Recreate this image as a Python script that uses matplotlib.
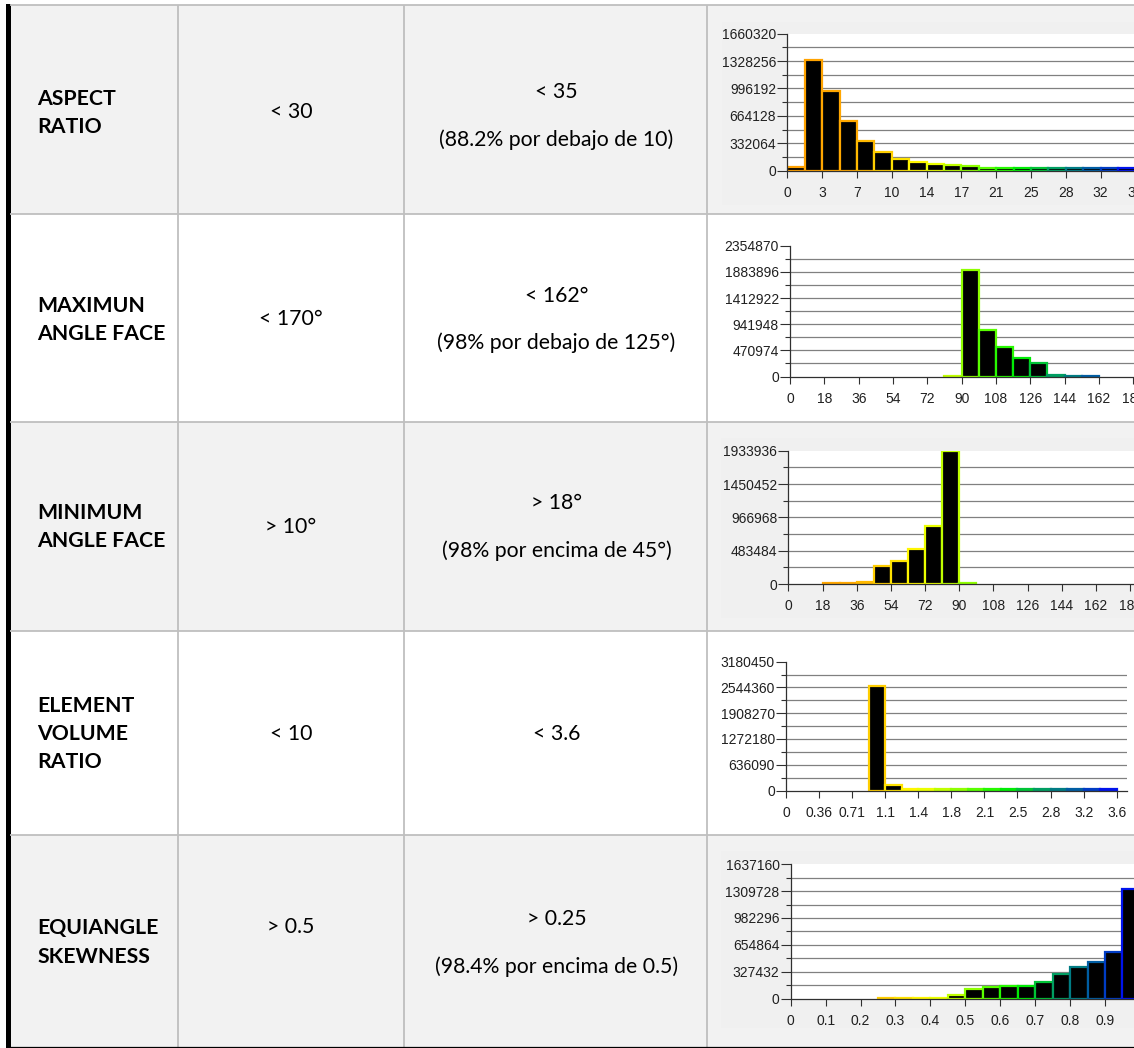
import matplotlib.pyplot as plt
import numpy as np
from matplotlib.colors import LinearSegmentedColormap
from matplotlib.patches import Rectangle

W, H = 1134, 1048

# ---- table contents ----
ROW_NAMES = [
    ["ASPECT", "RATIO"],
    ["MAXIMUN", "ANGLE FACE"],
    ["MINIMUM", "ANGLE FACE"],
    ["ELEMENT", "VOLUME", "RATIO"],
    ["EQUIANGLE", "SKEWNESS"],
]
LIMITS = ["< 30", "< 170°", "> 10°", "< 10", "> 0.5"]
RESULTS = [
    ["< 35", "(88.2% por debajo de 10)"],
    ["< 162°", "(98% por debajo de 125°)"],
    ["> 18°", "(98% por encima de 45°)"],
    ["< 3.6"],
    ["> 0.25", "(98.4% por encima de 0.5)"],
]

# ---- histogram data (20 equal bins on [0, x_max]) ----
X_MAX = [35, 180, 180, 3.6, 1.0]
X_LABELS = [
    ["0", "3", "7", "10", "14", "17", "21", "25", "28", "32", "35"],
    ["0", "18", "36", "54", "72", "90", "108", "126", "144", "162", "180"],
    ["0", "18", "36", "54", "72", "90", "108", "126", "144", "162", "180"],
    ["0", "0.36", "0.71", "1.1", "1.4", "1.8", "2.1", "2.5", "2.8", "3.2", "3.6"],
    ["0", "0.1", "0.2", "0.3", "0.4", "0.5", "0.6", "0.7", "0.8", "0.9", "1"],
]
Y_STEP = [332064, 470974, 483484, 636090, 327432]
Y_NSTEPS = [5, 5, 4, 5, 5]

counts_aspect = [48000, 1342000, 966000, 602000, 364000, 230000, 142000, 109000, 81000, 69000,
                 57000, 36000, 29000, 29000, 29000, 29000, 29000, 29000, 29000, 29000]
counts_max_angle = [0, 0, 0, 0, 0, 0, 0, 0, 0, 10000,
                    1913000, 834000, 534000, 331000, 241000, 31000, 13000, 13000, 0, 0]
counts_min_angle = [0, 0, 15000, 15000, 33000, 266000, 330000, 513000, 838000, 1933936,
                    15000, 0, 0, 0, 0, 0, 0, 0, 0, 0]
counts_volume = [0, 0, 0, 0, 0, 2578000, 132000, 40000, 40000, 40000,
                 40000, 40000, 40000, 40000, 40000, 40000, 40000, 40000, 40000, 40000]
counts_skew = [0, 0, 0, 0, 0, 12000, 12000, 12000, 12000, 37000,
               113000, 138000, 158000, 150000, 203000, 304000, 386000, 450000, 572000, 1330000]
COUNTS = [counts_aspect, counts_max_angle, counts_min_angle, counts_volume, counts_skew]

# ---- layout (pixels) ----
ROW_EDGES = [5, 214, 422, 631, 835, 1047]
COL_EDGES = [10, 178, 404, 707]
ROW_FILL = ["#f2f2f2", "#ffffff", "#f2f2f2", "#ffffff", "#f2f2f2"]
NAME_Y = [[98, 126], [305, 333], [512, 540], [705, 733, 761], [927, 956]]
LIMIT_Y = [111, 318, 526, 733, 926]
RESULT_Y = [[91, 139], [295, 342], [502, 550], [733], [918, 966]]
# x of zero, px per x tick, y of top, y of zero
CHART_POS = [
    (787.3, 34.82, 33.7, 170.7),
    (790.0, 34.33, 245.7, 376.5),
    (788.3, 34.20, 450.7, 584.0),
    (786.0, 33.07, 661.7, 790.5),
    (790.7, 34.92, 864.3, 998.5),
]
PANELS = {0: (722, 22, 205), 2: (721, 438, 618), 4: (721, 851, 1028)}

TABLE_FONT = ["Lato", "DejaVu Sans"]
CHART_FONT = ["Liberation Sans", "DejaVu Sans"]
TABLE_SIZE = 15.3

hist_cmap = LinearSegmentedColormap.from_list(
    "hist",
    [(0.0, "#ffa000"), (0.18, "#ffa800"), (0.3, "#ffd800"), (0.4, "#ffff00"),
     (0.5, "#aaff00"), (0.6, "#40ff00"), (0.67, "#00f000"), (0.75, "#00b050"),
     (0.82, "#008080"), (0.9, "#0050b0"), (1.0, "#0000ff")],
)

fig = plt.figure(figsize=(W / 100, H / 100), dpi=100)
tab = fig.add_axes([0, 0, 1, 1])
tab.set_xlim(0, W)
tab.set_ylim(H, 0)
tab.axis("off")

for i in range(5):
    top, bot = ROW_EDGES[i], ROW_EDGES[i + 1]
    tab.add_patch(Rectangle((10, top), W - 10, bot - top, fc=ROW_FILL[i], ec="none"))
    if i in PANELS:
        px, py0, py1 = PANELS[i]
        tab.add_patch(Rectangle((px, py0), W - px, py1 - py0, fc="#f0f0f0", ec="none"))

tab.hlines(ROW_EDGES[:-1], 10, W, color="#bfbfbf", lw=1.3)
tab.vlines(COL_EDGES[1:], ROW_EDGES[0], ROW_EDGES[-1], color="#bfbfbf", lw=1.3)
tab.hlines(ROW_EDGES[-1], 10, W, color="black", lw=0.9)
tab.add_patch(Rectangle((6, 4), 4.5, H - 4, fc="black", ec="none"))

c2 = (COL_EDGES[1] + COL_EDGES[2]) / 2
c3 = (COL_EDGES[2] + COL_EDGES[3]) / 2 + 1
for i in range(5):
    for line, y in zip(ROW_NAMES[i], NAME_Y[i]):
        tab.text(37, y + 7, line, fontsize=TABLE_SIZE, fontweight="bold", family=TABLE_FONT,
                 ha="left", va="baseline")
    tab.text(c2, LIMIT_Y[i] + 7, LIMITS[i], fontsize=TABLE_SIZE, family=TABLE_FONT,
             ha="center", va="baseline")
    for line, y in zip(RESULTS[i], RESULT_Y[i]):
        tab.text(c3, y + 7, line, fontsize=TABLE_SIZE, family=TABLE_FONT,
                 ha="center", va="baseline")

# ---- histograms ----
for i in range(5):
    x0, dx, ytop, yzero = CHART_POS[i]
    xmax = X_MAX[i]
    ext = 10.3
    ax = fig.add_axes([x0 / W, 1 - yzero / H, ext * dx / W, (yzero - ytop) / H])
    ax.set_facecolor("white")
    ax.set_xlim(0, xmax * ext / 10)
    ymax = Y_STEP[i] * Y_NSTEPS[i]
    ax.set_ylim(0, ymax)

    half = np.arange(1, 2 * Y_NSTEPS[i]) * Y_STEP[i] / 2
    ax.hlines(half, 0, xmax * ext / 10, color="#808080", lw=0.9, zorder=1)

    edges = np.linspace(0, xmax, 21)
    bw = edges[1] - edges[0]
    vals = np.array(COUNTS[i], dtype=float)
    t = (edges[:-1] + bw / 2) / xmax
    keep = vals > 0
    ax.bar(edges[:-1][keep], vals[keep], width=bw, align="edge", color="black",
           edgecolor=hist_cmap(t[keep]), linewidth=1.6, zorder=2)

    ax.set_xticks(np.linspace(0, xmax, 11))
    ax.set_xticklabels(X_LABELS[i])
    yt = np.arange(Y_NSTEPS[i] + 1) * Y_STEP[i]
    ax.set_yticks(yt)
    ax.set_yticklabels([str(int(v)) for v in yt])
    ax.set_yticks(half[::2], minor=True)

    for side in ("top", "right"):
        ax.spines[side].set_visible(False)
    for side in ("left", "bottom"):
        ax.spines[side].set_color("#303030")
        ax.spines[side].set_linewidth(0.9)
        ax.spines[side].set_zorder(3)
    ax.tick_params(axis="y", which="major", length=7, width=0.8, pad=1, color="#303030",
                   labelsize=10, labelcolor="#202020")
    ax.tick_params(axis="y", which="minor", length=3.6, width=0.8, color="#303030")
    ax.tick_params(axis="x", which="major", length=5, width=0.8, pad=6, color="#303030",
                   labelsize=10, labelcolor="#202020")
    for lab in ax.get_xticklabels() + ax.get_yticklabels():
        lab.set_family(CHART_FONT)

fig.savefig("out.png", dpi=100)
